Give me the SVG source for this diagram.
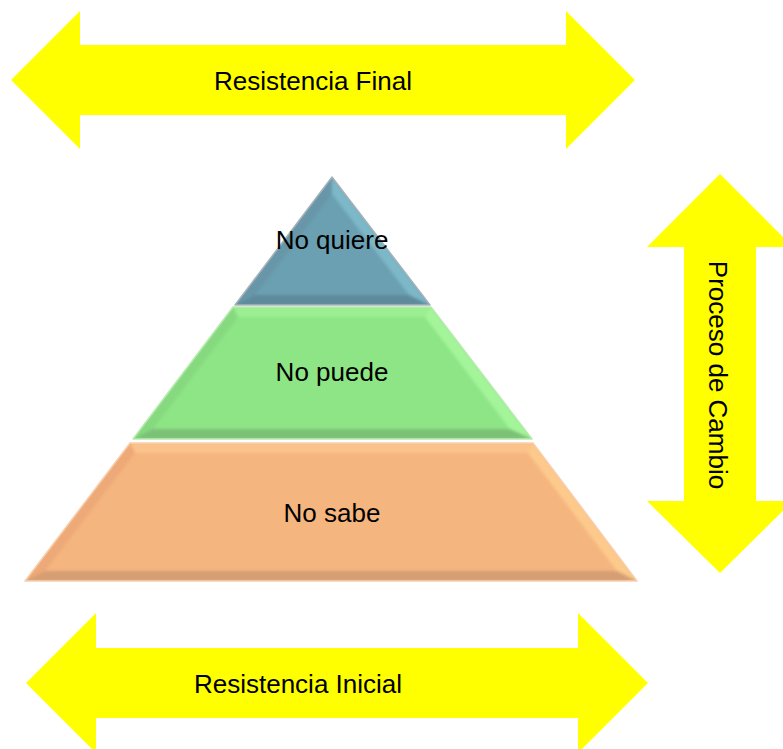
<svg xmlns="http://www.w3.org/2000/svg" width="783" height="749" viewBox="0 0 783 749">
  <style>
    .arrow { fill: #ffff00; }
    .label { font-family: "Liberation Sans", Arial, sans-serif; font-size: 26px; fill: #000000; text-anchor: middle; }
    .edge { fill: none; stroke-width: 1.5; stroke-linejoin: round; }
    .soft { filter: url(#soften); }
  </style>
  <defs>
    <filter id="soften" x="-5%" y="-5%" width="110%" height="110%">
      <feGaussianBlur stdDeviation="1.6"/>
    </filter>
    <clipPath id="clipTop"><polygon points="332,177 235,305 430,305"/></clipPath>
    <clipPath id="clipMid"><polygon points="233,307 431,307 532,439 133,439"/></clipPath>
    <clipPath id="clipBase"><polygon points="130,443 533,443 637,581 25,581"/></clipPath>
  </defs>

  <!-- double-headed arrow: final resistance -->
  <g id="arrow-final">
    <polygon class="arrow" points="11,80 80,11 80,45 566,45 566,11 635,80 566,149 566,115 80,115 80,149"/>
    <text class="label" x="313" y="90">Resistencia Final</text>
  </g>

  <!-- vertical double-headed arrow: change process -->
  <g id="arrow-cambio">
    <polygon class="arrow" points="720,174 793,247 756,247 756,501 793,501 720,573 647,501 684,501 684,247 647,247"/>
    <text class="label" transform="translate(709,375) rotate(90)">Proceso de Cambio</text>
  </g>

  <!-- double-headed arrow: initial resistance -->
  <g id="arrow-inicial">
    <polygon class="arrow" points="26,683 96,613 96,648 578,648 578,613 648,683 578,753 578,718 96,718 96,753"/>
    <text class="label" x="298" y="693">Resistencia Inicial</text>
  </g>

  <!-- pyramid top tier -->
  <g id="tier-quiere">
    <polygon points="332,177 235,305 430,305" fill="#6aa0b1"/>
    <g clip-path="url(#clipTop)">
      <g class="soft">
        <polygon points="332,177 235,305 255,295 332,194" fill="#6796a8"/>
        <polygon points="332,177 430,305 409,295 332,194" fill="#7db8c8"/>
        <polygon points="235,305 430,305 409,295 255,295" fill="#5f8a9b"/>
      </g>
    </g>
    <polygon class="edge" points="332,177 235,305 430,305" stroke="#a6b2b8"/>
    <text class="label" x="332" y="249">No quiere</text>
  </g>

  <!-- pyramid middle tier -->
  <g id="tier-puede">
    <polygon points="233,307 431,307 532,439 133,439" fill="#8de585"/>
    <g clip-path="url(#clipMid)">
      <g class="soft">
        <polygon points="233,307 431,307 425,317 238,317" fill="#9bef92"/>
        <polygon points="233,307 238,317 153,429 133,439" fill="#86d97f"/>
        <polygon points="431,307 532,439 510,429 425,317" fill="#a4f59a"/>
        <polygon points="133,439 532,439 510,429 153,429" fill="#7cc177"/>
      </g>
    </g>
    <polygon class="edge" points="233,307 431,307 532,439 133,439" stroke="#b8eab0"/>
    <text class="label" x="332" y="381">No puede</text>
  </g>

  <!-- pyramid base tier -->
  <g id="tier-sabe">
    <polygon points="130,443 533,443 637,581 25,581" fill="#f5b57f"/>
    <g clip-path="url(#clipBase)">
      <g class="soft">
        <polygon points="130,443 533,443 528,453 135,453" fill="#fcc28c"/>
        <polygon points="130,443 135,453 45,571 25,581" fill="#eda977"/>
        <polygon points="533,443 637,581 617,571 528,453" fill="#fdca8c"/>
        <polygon points="25,581 637,581 617,571 45,571" fill="#d69e73"/>
      </g>
    </g>
    <polygon class="edge" points="130,443 533,443 637,581 25,581" stroke="#f7cfae"/>
    <text class="label" x="332" y="522">No sabe</text>
  </g>
</svg>
